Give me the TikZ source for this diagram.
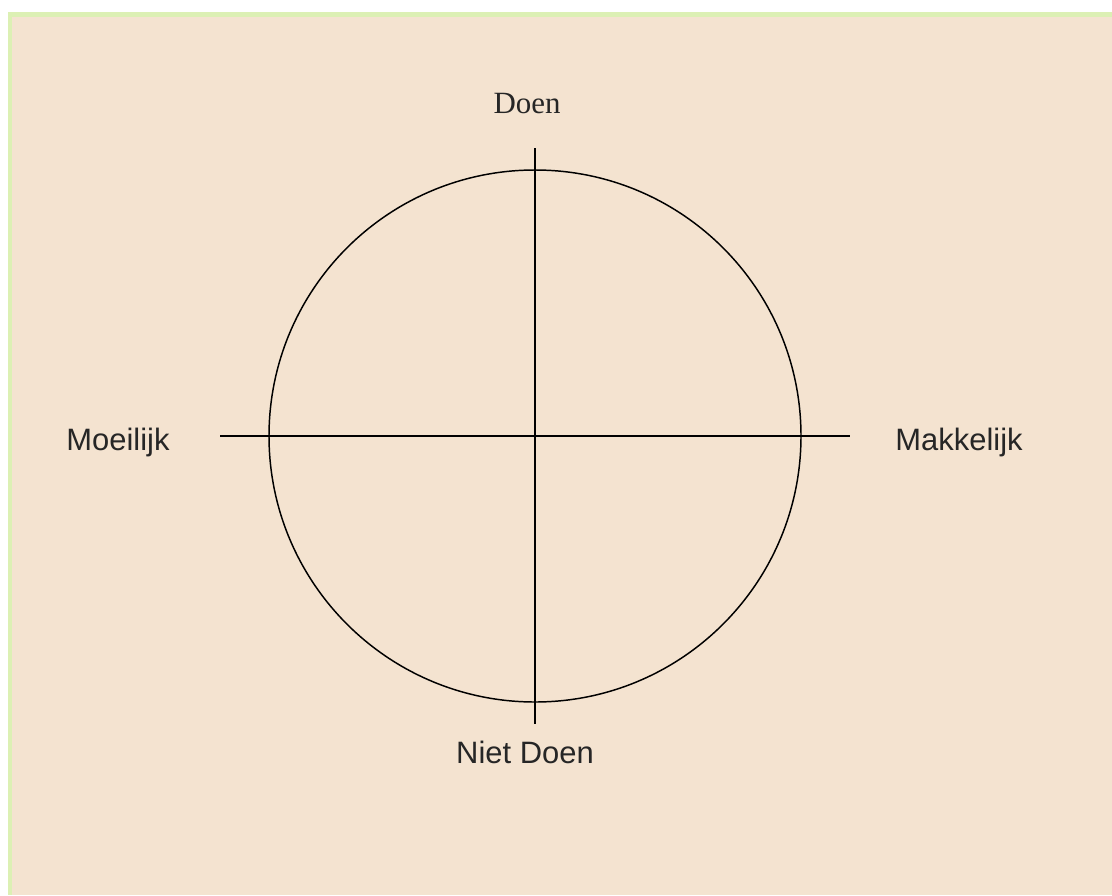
\documentclass[tikz,border=0pt]{standalone}
\usepackage{fontspec}
\setmainfont{Liberation Serif}
\setsansfont{Liberation Sans}
\definecolor{bg}{HTML}{F4E3D0}
\definecolor{edge}{HTML}{DCF0B4}
\definecolor{txt}{HTML}{262626}
\begin{document}
\begin{tikzpicture}[x=0.025cm,y=-0.025cm,
  axis/.style={line width=1.05pt, black},
  serlabel/.style={font=\rmfamily\fontsize{22}{26}\selectfont, text=txt, inner sep=0pt},
  sanslabel/.style={font=\sffamily\fontsize{22}{26}\selectfont, text=txt, inner sep=0pt}]
\useasboundingbox (0,0) rectangle (1112,895);
\fill[white] (0,0) rectangle (1112,895);
\fill[edge] (8,12) rectangle (1112,895);
\fill[bg] (12,17) rectangle (1112,895);
\coordinate (c) at (535,436);
\node[circle, draw, line width=1.05pt, minimum size=532*0.025cm, inner sep=0pt] (circ) at (c) {};
\coordinate (vt) at (535,148);
\coordinate (vb) at (535,724);
\coordinate (hl) at (220,436);
\coordinate (hr) at (850,436);
\draw[axis] (vt) -- (vb);
\draw[axis] (hl) -- (hr);
\node[serlabel] (doen) at (527,104) {Doen};
\node[sanslabel] (moe) at (118,442) {Moeilijk};
\node[sanslabel] (mak) at (959,442) {Makkelijk};
\node[sanslabel] (niet) at (525,752) {Niet Doen};
\end{tikzpicture}
\end{document}
